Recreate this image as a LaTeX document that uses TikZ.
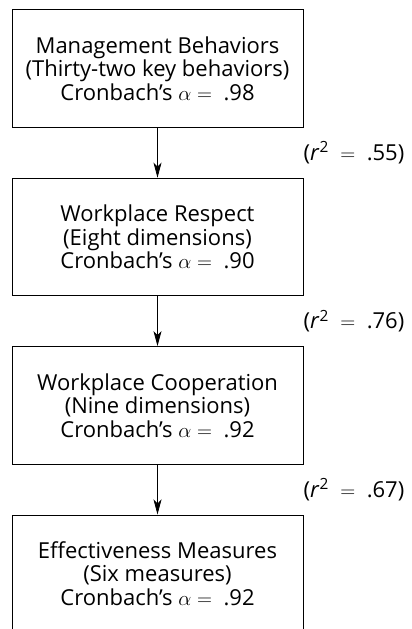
\documentclass[tikz,border=0pt]{standalone}
\usepackage{fontspec}
\setmainfont{Open Sans}
\usetikzlibrary{positioning,calc,arrows.meta}
\tikzset{
  stage/.style={draw, line width=0.9pt, minimum width=291pt, minimum height=117.5pt,
    align=center, font=\fontsize{22}{23.5}\selectfont, inner sep=0pt},
  rsq/.style={anchor=west, inner sep=0pt, font=\fontsize{22}{23.5}\selectfont},
  link/.style={-{Stealth[length=15pt,width=8pt,inset=4pt]}, line width=0.8pt}
}
\begin{document}
\begin{tikzpicture}[x=1pt,y=1pt,node distance=50pt]
\clip (0,0) rectangle (412,-629);
\node[stage] (mgmt) at (157.5,-68.5) {Management Behaviors\\(Thirty-two key behaviors)\\Cronbach’s $\alpha = {}\;$.98};
\node[stage, below=of mgmt] (resp) {Workplace Respect\\(Eight dimensions)\\Cronbach’s $\alpha = {}\;$.90};
\node[stage, below=of resp] (coop) {Workplace Cooperation\\(Nine dimensions)\\Cronbach’s $\alpha = {}\;$.92};
\node[stage, below=of coop] (eff) {Effectiveness Measures\\(Six measures)\\Cronbach’s $\alpha = {}\;$.92};

\draw[link] (mgmt) -- (resp);
\draw[link] (resp) -- (coop);
\draw[link] (coop) -- (eff);

\node[rsq] (r1) at ($(mgmt.south east)!0.5!(resp.north east)$) {(\textit{r}\textsuperscript{2}$\;\;=\;\;$.55)};
\node[rsq] (r2) at ($(resp.south east)!0.5!(coop.north east)$) {(\textit{r}\textsuperscript{2}$\;\;=\;\;$.76)};
\node[rsq] (r3) at ($(coop.south east)!0.5!(eff.north east)$) {(\textit{r}\textsuperscript{2}$\;\;=\;\;$.67)};

\end{tikzpicture}
\end{document}
